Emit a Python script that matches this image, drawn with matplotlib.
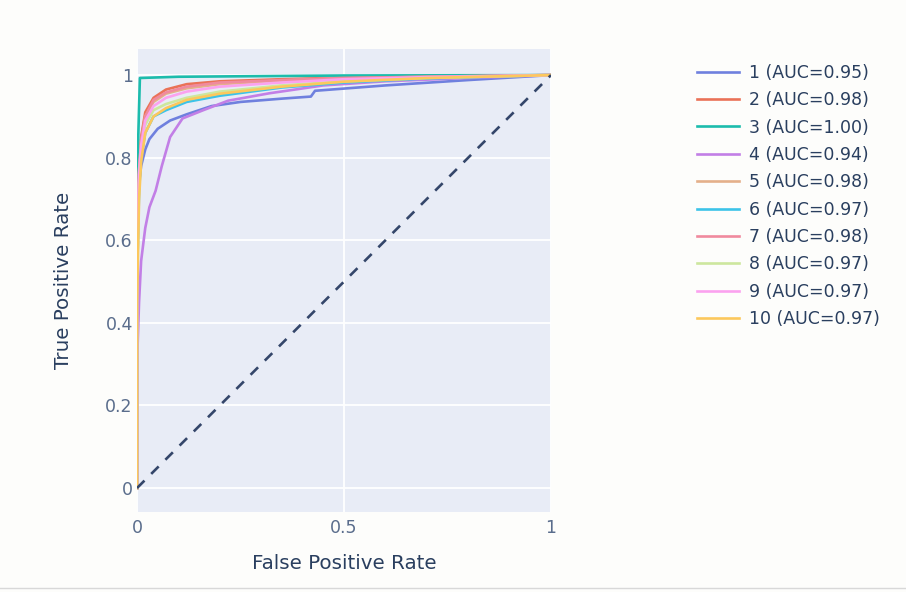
import numpy as np
import matplotlib.pyplot as plt
from matplotlib.lines import Line2D

plt.rcParams["font.family"] = ["DejaVu Sans"]

labels = ["1", "2", "3", "4", "5", "6", "7", "8", "9", "10"]
aucs = [0.95, 0.98, 1.00, 0.94, 0.98, 0.97, 0.98, 0.97, 0.97, 0.97]
colors = ["#6f80de", "#ea7257", "#1cbcac", "#c27fe6", "#e4b08a",
          "#3cc3e8", "#f08a9e", "#cde79e", "#fba2ef", "#fcc85c"]

# ROC points
fpr_1 = [0, 0, 0.01, 0.02, 0.03, 0.05, 0.08, 0.12, 0.18, 0.25, 0.35, 0.42, 0.43, 0.6, 0.8, 1]
tpr_1 = [0, 0.70, 0.78, 0.82, 0.845, 0.87, 0.89, 0.905, 0.925, 0.935, 0.943, 0.948, 0.962, 0.975, 0.988, 1]

fpr_3 = [0, 0, 0.007, 0.1, 0.5, 1]
tpr_3 = [0, 0.74, 0.993, 0.996, 0.999, 1]

fpr_4 = [0, 0, 0.005, 0.01, 0.02, 0.03, 0.045, 0.06, 0.08, 0.11, 0.16, 0.22, 0.32, 0.45, 0.6, 0.8, 1]
tpr_4 = [0, 0.3, 0.45, 0.55, 0.63, 0.68, 0.72, 0.78, 0.85, 0.895, 0.915, 0.938, 0.956, 0.975, 0.985, 0.993, 1]

fpr_c = [0, 0, 0.005, 0.01, 0.02, 0.04, 0.07, 0.12, 0.2, 0.35, 0.5, 0.7, 1]
tpr_2 = [0, 0.6, 0.78, 0.85, 0.91, 0.945, 0.965, 0.978, 0.985, 0.99, 0.994, 0.997, 1]
tpr_5 = [0, 0.58, 0.77, 0.84, 0.9, 0.935, 0.955, 0.968, 0.978, 0.987, 0.992, 0.996, 1]
tpr_6 = [0, 0.5, 0.72, 0.8, 0.86, 0.9, 0.915, 0.935, 0.95, 0.97, 0.982, 0.992, 1]
tpr_7 = [0, 0.6, 0.77, 0.84, 0.9, 0.94, 0.958, 0.972, 0.982, 0.988, 0.993, 0.996, 1]
tpr_8 = [0, 0.5, 0.74, 0.82, 0.88, 0.915, 0.93, 0.945, 0.96, 0.975, 0.985, 0.993, 1]
tpr_9 = [0, 0.55, 0.76, 0.83, 0.89, 0.925, 0.945, 0.96, 0.972, 0.982, 0.99, 0.995, 1]
tpr_10 = [0, 0.45, 0.7, 0.79, 0.86, 0.9, 0.92, 0.94, 0.955, 0.972, 0.984, 0.993, 1]

curves = [(fpr_1, tpr_1), (fpr_c, tpr_2), (fpr_3, tpr_3), (fpr_4, tpr_4),
          (fpr_c, tpr_5), (fpr_c, tpr_6), (fpr_c, tpr_7), (fpr_c, tpr_8),
          (fpr_c, tpr_9), (fpr_c, tpr_10)]

txt = "#2a3f5f"
fig = plt.figure(figsize=(9.06, 5.92), dpi=100, facecolor="#fdfdfb")
ax = fig.add_axes([0.1512, 0.1351, 0.457, 0.782])
ax.set_facecolor("#e8ecf6")

ax.plot([0, 1], [0, 1], color="#34466a", lw=1.9, dashes=(4.0, 3.6), zorder=3)
handles = []
for i, (fx, ty) in enumerate(curves):
    h, = ax.plot(fx, ty, color=colors[i], lw=1.9, zorder=2,
                 label=f"{labels[i]} (AUC={aucs[i]:.2f})")
    handles.append(h)

ax.set_xlim(0, 1)
ax.set_ylim(-0.058, 1.063)
ax.set_xticks([0, 0.5, 1])
ax.set_xticklabels(["0", "0.5", "1"])
ax.set_yticks([0, 0.2, 0.4, 0.6, 0.8, 1])
ax.set_yticklabels(["0", "0.2", "0.4", "0.6", "0.8", "1"])
ax.grid(True, color="white", lw=1.3)
ax.set_axisbelow(True)
for s in ax.spines.values():
    s.set_visible(False)
ax.tick_params(length=0, labelsize=12.5, labelcolor="#5a6d8c")
ax.tick_params(axis="y", pad=3)
ax.tick_params(axis="x", pad=5)
ax.set_xlabel("False Positive Rate", fontsize=14.3, color=txt, labelpad=12)
ax.set_ylabel("True Positive Rate", fontsize=14.3, color=txt, labelpad=23)

leg = fig.legend(handles=handles, loc="upper left", bbox_to_anchor=(0.762, 0.904),
                 frameon=False, fontsize=12.5, handlelength=2.4, handletextpad=0.55,
                 labelspacing=0.54, borderaxespad=0)
for t in leg.get_texts():
    t.set_color(txt)

fig.add_artist(Line2D([0, 1], [0.007, 0.007], color="#d8d8d8", lw=1))

fig.savefig("out.png", dpi=100, facecolor=fig.get_facecolor())
